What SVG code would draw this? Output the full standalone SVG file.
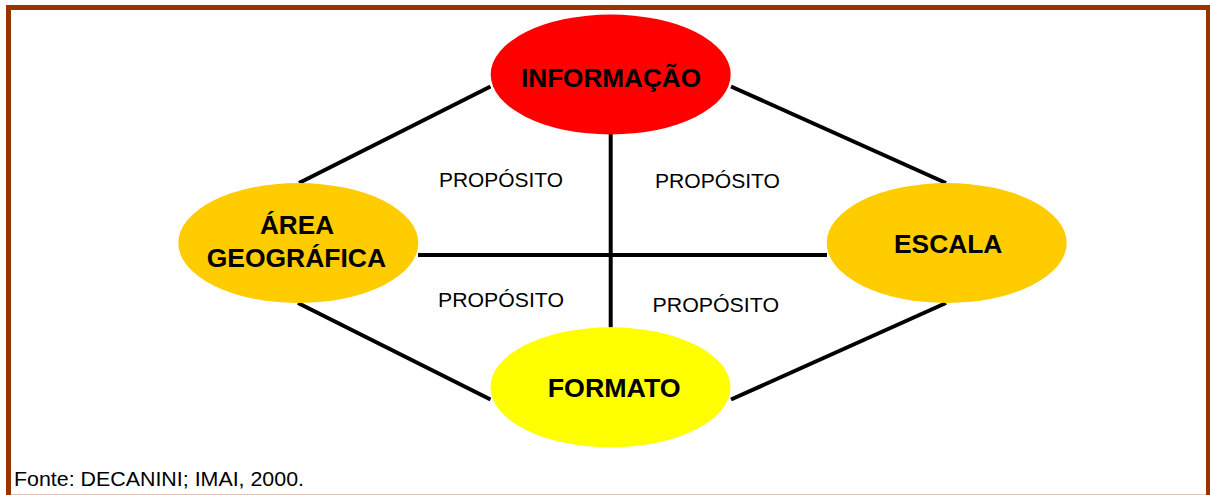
<svg xmlns="http://www.w3.org/2000/svg" width="1210" height="495" viewBox="0 0 1210 495">
<style>
.node{stroke:none}
.lbl{font-family:"Liberation Sans",Arial,sans-serif;font-weight:bold;font-size:25px;fill:#000}
.prop{font-family:"Liberation Sans",Arial,sans-serif;font-size:19.5px;fill:#000}
.conn line{stroke:#000;stroke-width:4}
</style>
<rect x="0" y="0" width="1210" height="495" fill="#fff"/>
<rect x="8.5" y="7.5" width="1200" height="489.7" fill="none" stroke="#993300" stroke-width="5"/>
<g id="connectors" class="conn">
<line x1="490.5" y1="86.5" x2="299" y2="183"/>
<line x1="731" y1="86.5" x2="946" y2="183"/>
<line x1="298" y1="303" x2="490.5" y2="399.5"/>
<line x1="946" y1="303" x2="731" y2="399.5"/>
<line x1="418" y1="255" x2="827" y2="255"/>
<line x1="610.7" y1="134" x2="610.7" y2="327.5"/>
</g>
<g id="informacao">
<ellipse class="node" cx="610.7" cy="74.5" rx="120" ry="60" fill="#FF0000"/>
<text class="lbl" x="521" y="87.3" textLength="180" lengthAdjust="spacingAndGlyphs">INFORMAÇÃO</text>
</g>
<g id="area-geografica">
<ellipse class="node" cx="298.3" cy="243" rx="120" ry="60" fill="#FFCC00"/>
<text class="lbl" x="260" y="234" textLength="74" lengthAdjust="spacingAndGlyphs">ÁREA</text>
<text class="lbl" x="206.7" y="266.7" textLength="179.3" lengthAdjust="spacingAndGlyphs">GEOGRÁFICA</text>
</g>
<g id="escala">
<ellipse class="node" cx="946.7" cy="243" rx="120" ry="60" fill="#FFCC00"/>
<text class="lbl" x="894" y="252.7" textLength="108.3" lengthAdjust="spacingAndGlyphs">ESCALA</text>
</g>
<g id="formato">
<ellipse class="node" cx="610.5" cy="387.3" rx="120" ry="60" fill="#FFFF00"/>
<text class="lbl" x="547.7" y="397.3" textLength="133" lengthAdjust="spacingAndGlyphs">FORMATO</text>
</g>
<g id="labels">
<text class="prop" x="439" y="186.5" textLength="124" lengthAdjust="spacingAndGlyphs">PROPÓSITO</text>
<text class="prop" x="655" y="187.5" textLength="125" lengthAdjust="spacingAndGlyphs">PROPÓSITO</text>
<text class="prop" x="438" y="306.7" textLength="126" lengthAdjust="spacingAndGlyphs">PROPÓSITO</text>
<text class="prop" x="652.5" y="311.7" textLength="126.5" lengthAdjust="spacingAndGlyphs">PROPÓSITO</text>
</g>
<text class="prop" x="14" y="486" font-size="21" textLength="290" lengthAdjust="spacingAndGlyphs">Fonte: DECANINI; IMAI, 2000.</text>
</svg>
